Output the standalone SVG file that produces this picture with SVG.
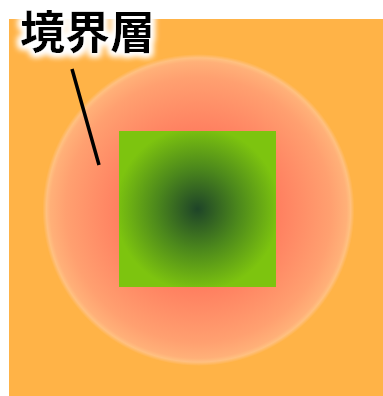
<svg xmlns="http://www.w3.org/2000/svg" width="383" height="396" viewBox="0 0 383 396">
<style>
.lbl{font-family:"Noto Sans CJK JP","Noto Sans CJK SC",sans-serif;font-weight:bold;font-size:45px;fill:#000}
</style>
<defs>
<radialGradient id="halo" cx="198.5" cy="210" r="156" gradientUnits="userSpaceOnUse">
<stop offset="0" stop-color="#FF6A55"/>
<stop offset="0.5" stop-color="#FF7F60"/>
<stop offset="0.85" stop-color="#FFA070"/>
<stop offset="0.95" stop-color="#FFB078"/>
<stop offset="0.975" stop-color="#FFC080"/>
<stop offset="1" stop-color="#FFB347"/>
</radialGradient>
<radialGradient id="core" cx="197.5" cy="209" r="82" gradientUnits="userSpaceOnUse">
<stop offset="0" stop-color="#1E4428"/>
<stop offset="0.5" stop-color="#4C881C"/>
<stop offset="1" stop-color="#7DC40F"/>
</radialGradient>
<filter id="glow" x="-20%" y="-40%" width="140%" height="180%">
<feMorphology in="SourceAlpha" operator="dilate" radius="3" result="d"/>
<feGaussianBlur in="d" stdDeviation="3" result="b"/>
<feFlood flood-color="#fff"/>
<feComposite in2="b" operator="in" result="w"/>
<feMerge><feMergeNode in="w"/><feMergeNode in="w"/><feMergeNode in="SourceGraphic"/></feMerge>
</filter>
</defs>
<rect x="9" y="19" width="374" height="377" fill="#FFB347"/>
<g id="boundary-layer"><circle cx="198.5" cy="210" r="156" fill="url(#halo)"/></g>
<g id="body"><rect x="119" y="131" width="157" height="156" fill="url(#core)"/></g>
<g id="connectors"><line x1="72" y1="69" x2="99" y2="165" stroke="#000" stroke-width="3.5"/></g>
<g id="label" filter="url(#glow)"><text class="lbl" x="20" y="49">境界層</text></g>
</svg>
